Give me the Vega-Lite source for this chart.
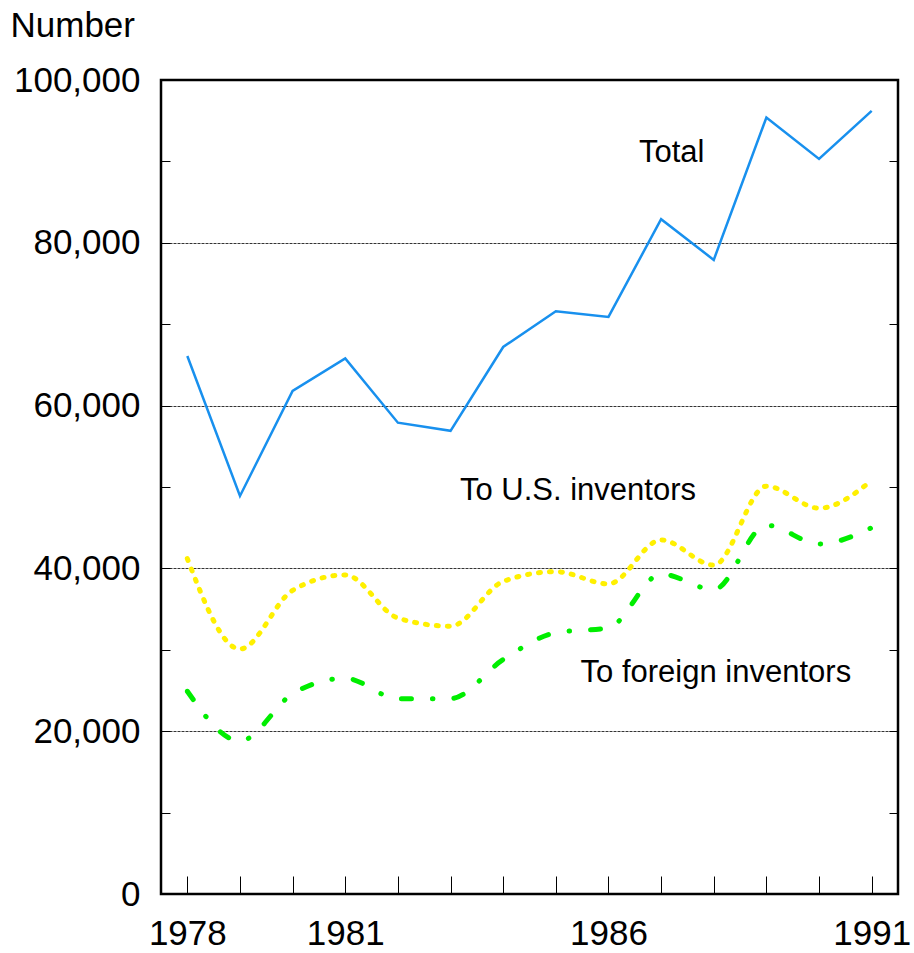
{
  "$schema": "https://vega.github.io/schema/vega-lite/v6.json",
  "width": 737,
  "height": 814,
  "autosize": "none",
  "padding": {"left": 161, "top": 80, "right": 16, "bottom": 59},
  "background": "white",
  "config": {
    "font": "Liberation Sans",
    "view": {"stroke": "black", "strokeWidth": 2.5},
    "axis": {"labelFont": "Liberation Sans", "titleFont": "Liberation Sans", "labelColor": "black", "titleColor": "black", "tickColor": "black", "domain": false}
  },
  "datasets": {
    "patents": [
      {"year": 1978, "series": "Total", "value": 66100},
      {"year": 1979, "series": "Total", "value": 48900},
      {"year": 1980, "series": "Total", "value": 61800},
      {"year": 1981, "series": "Total", "value": 65800},
      {"year": 1982, "series": "Total", "value": 57900},
      {"year": 1983, "series": "Total", "value": 56900},
      {"year": 1984, "series": "Total", "value": 67200},
      {"year": 1985, "series": "Total", "value": 71600},
      {"year": 1986, "series": "Total", "value": 70900},
      {"year": 1987, "series": "Total", "value": 82900},
      {"year": 1988, "series": "Total", "value": 77900},
      {"year": 1989, "series": "Total", "value": 95400},
      {"year": 1990, "series": "Total", "value": 90300},
      {"year": 1991, "series": "Total", "value": 96200},
      {"year": 1978, "series": "US", "value": 41200},
      {"year": 1979, "series": "US", "value": 30100},
      {"year": 1980, "series": "US", "value": 37300},
      {"year": 1981, "series": "US", "value": 39200},
      {"year": 1982, "series": "US", "value": 33900},
      {"year": 1983, "series": "US", "value": 32900},
      {"year": 1984, "series": "US", "value": 38400},
      {"year": 1985, "series": "US", "value": 39600},
      {"year": 1986, "series": "US", "value": 38100},
      {"year": 1987, "series": "US", "value": 43500},
      {"year": 1988, "series": "US", "value": 40400},
      {"year": 1989, "series": "US", "value": 50100},
      {"year": 1990, "series": "US", "value": 47400},
      {"year": 1991, "series": "US", "value": 50800},
      {"year": 1978, "series": "Foreign", "value": 24900},
      {"year": 1979, "series": "Foreign", "value": 18800},
      {"year": 1980, "series": "Foreign", "value": 24600},
      {"year": 1981, "series": "Foreign", "value": 26500},
      {"year": 1982, "series": "Foreign", "value": 24000},
      {"year": 1983, "series": "Foreign", "value": 24000},
      {"year": 1984, "series": "Foreign", "value": 28800},
      {"year": 1985, "series": "Foreign", "value": 32100},
      {"year": 1986, "series": "Foreign", "value": 32700},
      {"year": 1987, "series": "Foreign", "value": 39300},
      {"year": 1988, "series": "Foreign", "value": 37400},
      {"year": 1989, "series": "Foreign", "value": 45300},
      {"year": 1990, "series": "Foreign", "value": 43000},
      {"year": 1991, "series": "Foreign", "value": 45000}
    ],
    "labels": [
      {"year": 1987.2, "value": 91000, "text": "Total"},
      {"year": 1985.42, "value": 49500, "text": "To U.S. inventors"},
      {"year": 1988.04, "value": 27100, "text": "To foreign inventors"}
    ]
  },
  "resolve": {"axis": {"y": "independent"}},
  "layer": [
    {
      "encoding": {
        "x": {
          "field": "year", "type": "quantitative",
          "scale": {"domain": [1977.5, 1991.5], "nice": false, "zero": false},
          "axis": {
            "title": null, "values": [1978,1979,1980,1981,1982,1983,1984,1985,1986,1987,1988,1989,1990,1991],
            "format": "d", "labelExpr": "(datum.value == 1978 || datum.value == 1981 || datum.value == 1986 || datum.value == 1991) ? datum.label : ''",
            "tickSize": -18, "tickWidth": 1, "labelFontSize": 35, "labelPadding": 40, "labelFlush": false, "labelOverlap": false, "grid": false
          }
        },
        "y": {
          "field": "value", "type": "quantitative",
          "scale": {"domain": [0, 100000], "nice": false},
          "axis": {
            "title": "Number", "titleAngle": 0, "titleAlign": "left", "titleBaseline": "alphabetic", "titleX": -151, "titleY": -44,
            "titleFontSize": 35, "titleFontWeight": "normal",
            "values": [0,10000,20000,30000,40000,50000,60000,70000,80000,90000,100000],
            "labelExpr": "datum.value % 20000 === 0 ? format(datum.value, ',') : ''",
            "tickSize": -9, "tickWidth": 1, "labelFontSize": 35, "labelPadding": 30, "labelOverlap": false,
            "grid": true, "gridColor": "black", "gridDash": [3, 1], "gridWidth": 0.8,
            "gridOpacity": {"condition": {"test": "datum.value % 20000 === 0 && datum.value > 0 && datum.value < 100000", "value": 1}, "value": 0}
          }
        }
      },
      "layer": [
        {
          "data": {"name": "patents"},
          "transform": [{"filter": "datum.series === 'Total'"}],
          "mark": {"type": "line", "color": "#1890ee", "strokeWidth": 2.5}
        },
        {
          "data": {"name": "patents"},
          "transform": [{"filter": "datum.series === 'US'"}],
          "mark": {"type": "line", "color": "#fff000", "strokeWidth": 5, "interpolate": "monotone", "strokeDash": [2, 9], "strokeCap": "round"}
        },
        {
          "data": {"name": "patents"},
          "transform": [{"filter": "datum.series === 'Foreign'"}],
          "mark": {"type": "line", "color": "#00ee00", "strokeWidth": 5, "interpolate": "monotone", "strokeDash": [10, 21, 0.5, 21], "strokeCap": "round"}
        },
        {
          "data": {"name": "labels"},
          "mark": {"type": "text", "fontSize": 31, "color": "black", "align": "center", "baseline": "middle", "font": "Liberation Sans"},
          "encoding": {"text": {"field": "text"}}
        }
      ]
    },
    {
      "data": {"values": [{"value": 0}]},
      "mark": {"type": "rule", "opacity": 0},
      "encoding": {
        "y": {
          "field": "value", "type": "quantitative",
          "scale": {"domain": [0, 100000], "nice": false},
          "axis": {"orient": "right", "title": null, "labels": false, "values": [0,10000,20000,30000,40000,50000,60000,70000,80000,90000,100000], "tickSize": -9, "tickWidth": 1, "grid": false}
        }
      }
    }
  ]
}
